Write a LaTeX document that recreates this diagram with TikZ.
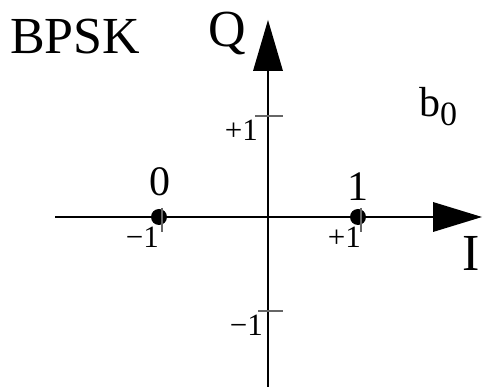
\documentclass[tikz,border=0pt]{standalone}
\usepackage{fontspec}
\setmainfont{Liberation Serif}
\begin{document}
\begin{tikzpicture}[x=1pt,y=-1pt,
  axis/.style={line width=2.2pt,black},
  head/.style={fill=black,draw=none},
  tickmark/.style={line width=1.8pt,black!60},
  dot/.style={circle,fill=black,inner sep=0pt,minimum size=16pt},
  big/.style={inner sep=0pt,font=\fontsize{52}{58}\selectfont},
  mid/.style={inner sep=0pt,font=\fontsize{42}{48}\selectfont},
  small/.style={inner sep=0pt,font=\fontsize{31}{35}\selectfont}]
\useasboundingbox (0,0) rectangle (483,387);
% axes
\coordinate (qbot) at (268,387);
\coordinate (qbase) at (268,71);
\coordinate (qtip) at (268,20);
\coordinate (ileft) at (55,217);
\coordinate (ibase) at (433,217);
\coordinate (itip) at (482,217);
\draw[axis] (qbot) -- (qbase);
\draw[axis] (ileft) -- (ibase);
\fill[head] (qtip) -- ([xshift=-15pt]qbase) -- ([xshift=15pt]qbase) -- cycle;
\fill[head] (itip) -- ([yshift=-15pt]ibase) -- ([yshift=15pt]ibase) -- cycle;
% points
\node[dot] (p0) at (159,217) {};
\node[dot] (p1) at (358,217) {};
% ticks
\coordinate (tq1a) at (255,116); \coordinate (tq1b) at (283,116);
\coordinate (tq2a) at (258,311); \coordinate (tq2b) at (283,311);
\coordinate (ti1a) at (162,208); \coordinate (ti1b) at (162,232);
\coordinate (ti2a) at (361,208); \coordinate (ti2b) at (361,232);
\draw[tickmark] (tq1a) -- (tq1b);
\draw[tickmark] (tq2a) -- (tq2b);
\draw[tickmark] (ti1a) -- (ti1b);
\draw[tickmark] (ti2a) -- (ti2b);
% labels
\node[big,anchor=base west] (title) at (10,54) {BPSK};
\node[big,anchor=base west] (Q) at (208,47) {Q};
\node[big,anchor=base] (I) at (471,271) {I};
\node[mid,anchor=base west] (b0) at (419,117) {b\raisebox{-9pt}{\fontsize{34}{38}\selectfont 0}};
\node[mid,anchor=base] (l0) at (160,196) {0};
\node[mid,anchor=base] (l1) at (358,201) {1};
\node[small,anchor=base east] (m1i) at (159,248) {−1};
\node[small,anchor=base east] (p1i) at (361,248) {+1};
\node[small,anchor=base east] (p1q) at (258,141) {+1};
\node[small,anchor=base east] (m1q) at (263,336) {−1};
\end{tikzpicture}
\end{document}
